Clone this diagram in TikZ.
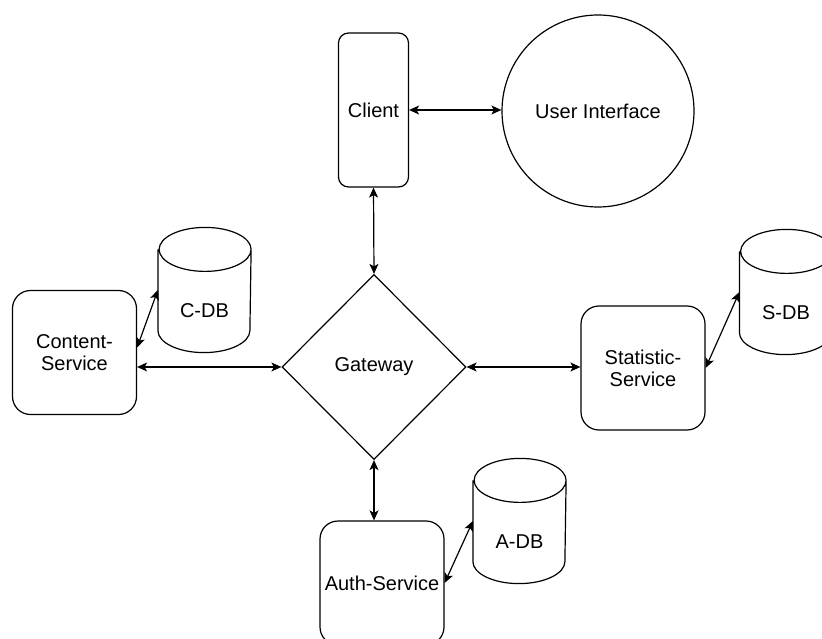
\documentclass[tikz,border=0pt]{standalone}
\usepackage{fontspec}
\setmainfont{Liberation Sans}
\usetikzlibrary{arrows.meta, shapes.geometric}

\def\dbrx{46pt}
\def\dbry{22pt}
\def\dbtext{-21pt}

% outline of a database drum around a named node
\newcommand\dbdrum[1]{%
  \draw ([yshift=-\dbry]#1.north west) -- ([yshift=\dbry]#1.south west)
    arc[start angle=180, end angle=360, x radius=\dbrx, y radius=\dbry]
    -- ([yshift=-\dbry]#1.north east)
    arc[start angle=0, end angle=180, x radius=\dbrx, y radius=\dbry]
    arc[start angle=180, end angle=360, x radius=\dbrx, y radius=\dbry];}

\begin{document}
\begin{tikzpicture}[x=1pt, y=-1pt, line width=1.2pt,
    font=\fontsize{20}{22}\selectfont,
    box/.style={draw, rounded corners=18pt, align=center, inner sep=0pt,
      minimum width=124pt, minimum height=124pt},
    db/.style={minimum width=92pt, minimum height=124pt, inner sep=0pt},
    link/.style={{Stealth[length=10pt, width=9pt, inset=2.5pt]}-{Stealth[length=10pt, width=9pt, inset=2.5pt]}}]
  \useasboundingbox (0,0) rectangle (822,639);
  \clip (0,0) rectangle (822,639);

  % top row
  \node [box, minimum width=70pt, minimum height=154pt, rounded corners=10pt] (client) at (373.5,110) {Client};
  \node [draw, circle, minimum size=192pt, inner sep=0pt] (ui) at (598,111) {User Interface};

  % gateway
  \node [draw, diamond, minimum width=184pt, minimum height=185pt, inner sep=0pt] (gateway) at (374,367) {Gateway};

  % services
  \node [box] (content) at (74.5,352.5) {Content-\\Service};
  \node [box] (stat) at (643,368) {Statistic-\\Service};
  \node [box] (auth) at (382,583) {Auth-Service};

  % databases
  \node [db, label={[yshift=\dbtext]center:C-DB}] (cdb) at (204.5,290) {};
  \node [db, label={[yshift=\dbtext]center:S-DB}] (sdb) at (786,292) {};
  \node [db, label={[yshift=\dbtext]center:A-DB}] (adb) at (519.5,521) {};
  \dbdrum{cdb}
  \dbdrum{sdb}
  \dbdrum{adb}

  \draw [link] (client.east) -- (client.east -| ui.west);
  \draw [link] (client.south) -- (gateway.north);
  \draw [link] (gateway.west -| content.east) -- (gateway.west);
  \draw [link] (gateway.east) -- (gateway.east -| stat.west);
  \draw [link] (gateway.south) -- (gateway.south |- auth.north);
  \draw [link] ([yshift=5pt]content.east) -- (cdb.west);
  \draw [link] (stat.east) -- (sdb.west);
  \draw [link] (auth.east) -- (adb.west);

\end{tikzpicture}
\end{document}
